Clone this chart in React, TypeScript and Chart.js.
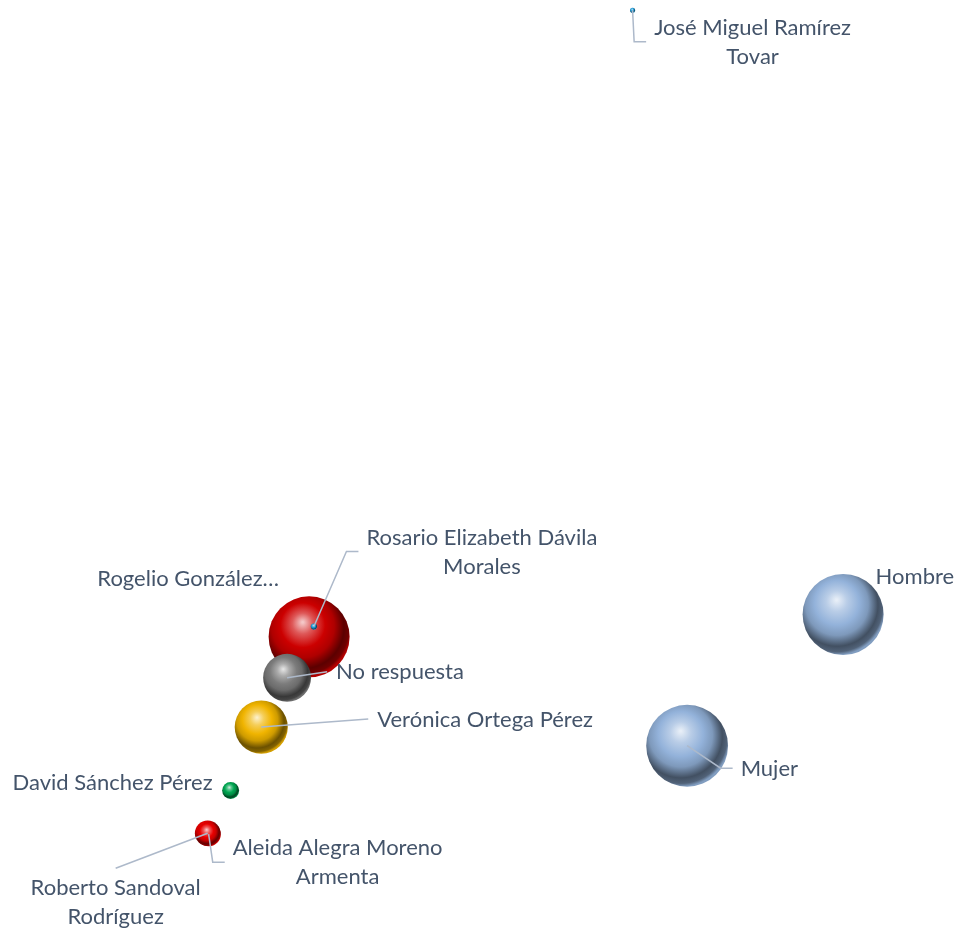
import React, { useEffect, useRef } from "react";
import { Chart, registerables } from "chart.js";

Chart.register(...registerables);

// ---- Data ----
const pointNames: string[] = [
  "José Miguel Ramírez\nTovar",
  "Rogelio González…",
  "Rosario Elizabeth Dávila\nMorales",
  "No respuesta",
  "Verónica Ortega Pérez",
  "David Sánchez Pérez",
  "Roberto Sandoval\nRodríguez",
  "Aleida Alegra Moreno\nArmenta",
  "Hombre",
  "Mujer",
];
const xValues: number[] = [66.1, 32.3, 32.8, 30.0, 27.3, 24.1, 21.7, 21.8, 88.1, 71.8];
const yValues: number[] = [98.9, 31.6, 32.7, 27.2, 21.9, 15.1, 10.5, 10.4, 34.0, 19.9];
const sizeValues: number[] = [0.4, 100, 0.6, 35, 43, 4.4, 10, 9, 100, 102];

// ---- Styles ----
const pointColors: string[] = [
  "#1e9bd7",
  "#cc0000",
  "#1e9bd7",
  "#7c7c7c",
  "#f0b400",
  "#00a651",
  "#e80000",
  "#e80000",
  "#93b2da",
  "#93b2da",
];

type Placement = { dx: number; dy: number; align: "left" | "right" | "center"; leader: "none" | "elbow" | "straight" | "top" };
const labelPlacement: Placement[] = [
  { dx: 120, dy: 31.5, align: "center", leader: "elbow" },
  { dx: -30, dy: -58, align: "right", leader: "none" },
  { dx: 168, dy: -75, align: "center", leader: "elbow" },
  { dx: 49, dy: -6, align: "left", leader: "straight" },
  { dx: 116, dy: -8, align: "left", leader: "straight" },
  { dx: -18, dy: -8, align: "right", leader: "none" },
  { dx: -92, dy: 69, align: "center", leader: "top" },
  { dx: 129, dy: 28, align: "center", leader: "elbow" },
  { dx: 32.5, dy: -38, align: "left", leader: "none" },
  { dx: 53.5, dy: 22.5, align: "left", leader: "elbow" },
];

const SIZE_SCALE = 4.05;
const FONT_SIZE = 22;
const LINE_H = 29;
const TEXT_COLOR = "#44546a";
const LEADER_COLOR = "#adb9ca";

function hexToRgb(hex: string): [number, number, number] {
  const h = hex.replace("#", "");
  return [parseInt(h.slice(0, 2), 16), parseInt(h.slice(2, 4), 16), parseInt(h.slice(4, 6), 16)];
}
function mix(hex: string, target: string, t: number): string {
  const a = hexToRgb(hex);
  const b = hexToRgb(target);
  const c = a.map((v, i) => Math.round(v + (b[i] - v) * t));
  return `rgb(${c[0]},${c[1]},${c[2]})`;
}

function sphereFill(ctx: CanvasRenderingContext2D, x: number, y: number, r: number, base: string) {
  const g = ctx.createRadialGradient(x - r * 0.16, y - r * 0.36, r * 0.02, x - r * 0.15, y - r * 0.2, r * 1.2);
  g.addColorStop(0, mix(base, "#ffffff", 0.78));
  g.addColorStop(0.2, mix(base, "#ffffff", 0.35));
  g.addColorStop(0.45, base);
  g.addColorStop(0.64, mix(base, "#000000", 0.14));
  g.addColorStop(0.84, mix(base, "#000000", 0.55));
  g.addColorStop(0.94, mix(base, "#000000", 0.45));
  g.addColorStop(1, mix(base, "#000000", 0.12));
  return g;
}

const labelPlugin = {
  id: "bubbleLabels",
  afterDatasetsDraw(chart: any) {
    const ctx: CanvasRenderingContext2D = chart.ctx;
    const meta = chart.getDatasetMeta(0);
    ctx.save();
    ctx.font = `${FONT_SIZE}px Lato`;
    meta.data.forEach((el: any, i: number) => {
      const p = labelPlacement[i];
      if (!p) return;
      const lines = pointNames[i].split("\n");
      const cx = el.x + p.dx;
      const cy = el.y + p.dy;
      const widths = lines.map((l) => ctx.measureText(l).width);
      const maxW = Math.max(...widths);
      const h = lines.length * LINE_H;
      let left = cx;
      if (p.align === "center") left = cx - maxW / 2;
      else if (p.align === "right") left = cx - maxW;

      if (p.leader !== "none") {
        ctx.strokeStyle = LEADER_COLOR;
        ctx.lineWidth = 1.5;
        ctx.beginPath();
        ctx.moveTo(el.x, el.y);
        if (p.leader === "elbow") {
          const ax = left - 8;
          ctx.lineTo(ax - 12, cy);
          ctx.lineTo(ax, cy);
        } else if (p.leader === "straight") {
          ctx.lineTo(left - 9, cy);
        } else if (p.leader === "top") {
          ctx.lineTo(cx, cy - h / 2 - 5);
        }
        ctx.stroke();
      }

      ctx.fillStyle = TEXT_COLOR;
      ctx.textAlign = p.align;
      ctx.textBaseline = "alphabetic";
      lines.forEach((l, k) => {
        const ly = cy - h / 2 + LINE_H * (k + 0.5);
        ctx.fillText(l, cx, ly + 7.5);
      });
    });
    ctx.restore();
  },
};

export default function App() {
  const canvasRef = useRef<HTMLCanvasElement | null>(null);

  useEffect(() => {
    document.body.style.margin = "0";
    const canvas = canvasRef.current;
    if (!canvas) return;
    const data = xValues.map((x, i) => ({ x, y: yValues[i], r: Math.sqrt(sizeValues[i]) * SIZE_SCALE }));
    const chart = new Chart(canvas, {
      type: "bubble",
      data: {
        labels: pointNames,
        datasets: [
          {
            label: "Serie",
            data,
            borderWidth: 0,
            clip: false as any,
            backgroundColor: (c: any) => {
              const base = pointColors[c.dataIndex] || "#999999";
              const ch = c.chart;
              if (c.type !== "data" || !ch.scales || !ch.scales.x || !ch.scales.y) return base;
              const px = ch.scales.x.getPixelForValue(c.parsed ? c.parsed.x : c.raw.x);
              const py = ch.scales.y.getPixelForValue(c.parsed ? c.parsed.y : c.raw.y);
              const r = c.raw.r;
              if (!isFinite(px) || !isFinite(py) || !isFinite(r) || r <= 0) return base;
              return sphereFill(ch.ctx, px, py, r, base);
            },
          } as any,
        ],
      },
      options: {
        animation: false,
        responsive: false,
        maintainAspectRatio: false,
        events: [],
        layout: { padding: 0, autoPadding: false },
        scales: {
          x: { type: "linear", min: 0, max: 100, display: false },
          y: { type: "linear", min: 0, max: 100, display: false },
        },
        plugins: {
          legend: { display: false },
          tooltip: { enabled: false },
        },
      },
      plugins: [labelPlugin],
    });
    return () => chart.destroy();
  }, []);

  return (
    <div style={{ width: 957, height: 931, background: "#ffffff" }}>
      <canvas ref={canvasRef} width={957} height={931} style={{ display: "block" }} />
    </div>
  );
}
